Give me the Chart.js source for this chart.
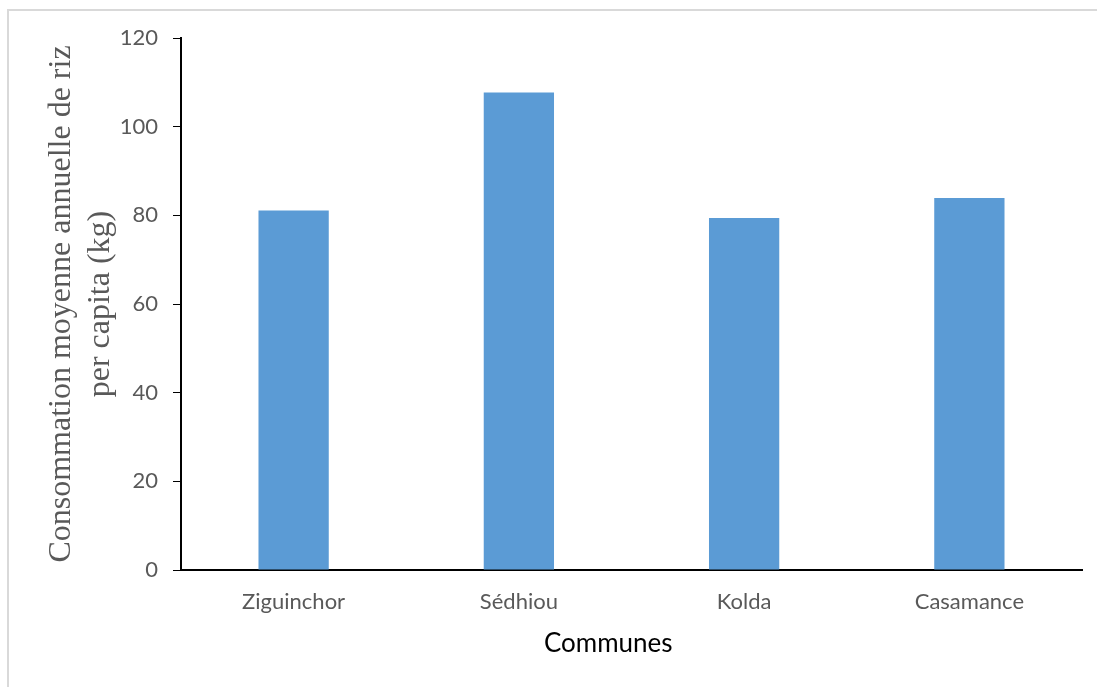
<!DOCTYPE html>
<html>
<head>
<meta charset="utf-8">
<script src="https://cdn.jsdelivr.net/npm/chart.js@4"></script>
<style>
  html, body { margin: 0; padding: 0; background: #fff; }
  #wrap { position: relative; width: 1097px; height: 687px; overflow: hidden; }
  #frame { position: absolute; left: 7px; top: 9px; width: 1100px; height: 700px;
           border-top: 2px solid #d9d9d9; border-left: 2px solid #d9d9d9; }
  #chart { position: absolute; left: 0; top: 0; }
</style>
</head>
<body>
<div id="wrap">
  <div id="frame"></div>
  <canvas id="chart" width="1097" height="687"></canvas>
</div>
<script>
const communes = ['Ziguinchor', 'Sédhiou', 'Kolda', 'Casamance'];
const consommation = [81.1, 107.7, 79.4, 83.9];
const yTicks = [0, 20, 40, 60, 80, 100, 120];

const yTitle = ['Consommation moyenne annuelle de riz', 'per capita (kg)'];
// trailing spaces nudge the title a bit left, as in the original
const xTitle = 'Communes       ';

new Chart(document.getElementById('chart').getContext('2d'), {
  type: 'bar',
  data: {
    labels: communes,
    datasets: [{
      data: consommation,
      backgroundColor: '#5b9bd5',
      borderWidth: 0,
      categoryPercentage: 1,
      barPercentage: 0.312
    }]
  },
  options: {
    responsive: false,
    animation: false,
    devicePixelRatio: 1,
    layout: { padding: { left: 0, top: 38, right: 15, bottom: 0 } },
    plugins: { legend: { display: false }, tooltip: { enabled: false } },
    scales: {
      x: {
        grid: { display: false, drawTicks: false },
        border: { display: true, color: '#000', width: 2 },
        ticks: {
          color: '#595959',
          padding: 19,
          font: { family: 'Lato, sans-serif', size: 22 }
        },
        title: {
          display: true,
          text: xTitle,
          color: '#000',
          font: { family: 'Lato, sans-serif', size: 26 },
          padding: { top: 0, bottom: 28 }
        },
        afterFit: s => { s.height = 117; }
      },
      y: {
        min: 0,
        max: 120,
        afterBuildTicks: s => { s.ticks = yTicks.map(v => ({ value: v })); },
        grid: { drawOnChartArea: false, drawTicks: true, tickLength: 8, color: '#000', lineWidth: 1 },
        border: { display: true, color: '#000', width: 2 },
        ticks: {
          color: '#595959',
          padding: 15,
          font: { family: 'Lato, sans-serif', size: 22 }
        },
        title: {
          display: true,
          text: yTitle,
          color: '#595959',
          font: { family: '"Liberation Serif", "Times New Roman", serif', size: 32, lineHeight: 1.22 },
          padding: { top: 42, bottom: 0 }
        },
        afterFit: s => { s.width = 181; }
      }
    }
  }
});
</script>
</body>
</html>
